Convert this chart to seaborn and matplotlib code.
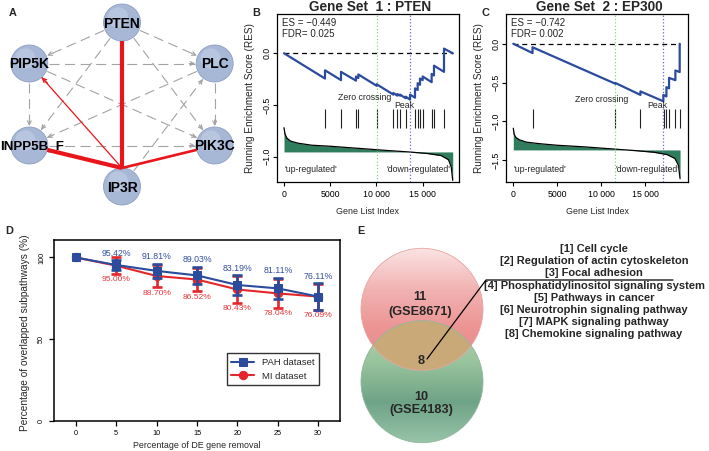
import numpy as np
import seaborn as sns
import matplotlib.pyplot as plt
from matplotlib.patches import Circle
from matplotlib.colors import LinearSegmentedColormap

# ---------------- A : sub-pathway network ----------------
net_nodes = ['PTEN', 'PLC', 'PIK3C', 'IP3R', 'INPP5B_F', 'PIP5K']
red_edges = [('IP3R', 'PTEN'), ('IP3R', 'INPP5B_F'), ('IP3R', 'PIK3C'), ('IP3R', 'PIP5K')]
gray_edges = [('PIP5K', 'PLC'), ('PIP5K', 'INPP5B_F'), ('PLC', 'PIK3C'), ('INPP5B_F', 'PIK3C'),
              ('PTEN', 'PIP5K'), ('PTEN', 'PLC'), ('PTEN', 'INPP5B_F'), ('PTEN', 'PIK3C'),
              ('PIP5K', 'PIK3C'), ('PLC', 'INPP5B_F'), ('IP3R', 'PLC')]

# ---------------- B : GSEA, gene set 1 (PTEN) ----------------
es1, fdr1 = -0.449, 0.025
zero1, peak1 = 10030, 13640
res1_x = [0, 4437, 4437, 6169, 6169, 7792, 7792, 8045, 8045, 10030, 10030, 11833, 11833,
          12266, 12266, 12554, 12554, 13167, 13167, 13640, 13640, 14177, 14177, 14466, 14466,
          14718, 14718, 15007, 15007, 15981, 15981, 16233, 16233, 17316, 17316, 18260]
res1_y = [0, -0.245, -0.165, -0.260, -0.180, -0.265, -0.225, -0.240, -0.205, -0.315, -0.300,
          -0.400, -0.385, -0.410, -0.395, -0.410, -0.400, -0.435, -0.420, -0.449, -0.400,
          -0.430, -0.340, -0.355, -0.290, -0.305, -0.245, -0.260, -0.225, -0.280, -0.200,
          -0.215, -0.120, -0.180, 0.045, 0.0]
hits1 = [4437, 6169, 7792, 8045, 10030, 11833, 12266, 12554, 13167, 14177, 14466, 14718,
         15007, 15981, 16233, 17316]
rank1_x = [0, 100, 300, 700, 1500, 3000, 5000, 8000, 11000, 13500, 15500, 17000, 17800, 18100, 18260]
rank1_y = [-0.72, -0.78, -0.82, -0.85, -0.87, -0.89, -0.90, -0.92, -0.94, -0.955, -0.97,
           -0.99, -1.03, -1.10, -1.23]
base1 = -0.955

# ---------------- C : GSEA, gene set 2 (EP300) ----------------
es2, fdr2 = -0.742, 0.002
zero2, peak2 = 11560, 17040
res2_x = [0, 2190, 2190, 11600, 11600, 14470, 14470, 17080, 17080, 17430, 17430, 17730, 17730,
          18450, 18450, 18940, 18940]
res2_y = [0, -0.12, -0.045, -0.515, -0.505, -0.660, -0.615, -0.742, -0.660, -0.680, -0.560,
          -0.575, -0.440, -0.470, -0.345, -0.365, 0.0]
hits2 = [2190, 11600, 14470, 17120, 17430, 17730, 18450, 18940]
rank2_x = [0, 100, 300, 700, 1500, 3000, 5000, 8000, 11000, 14000, 16000, 17500, 18400, 18800, 18980]
rank2_y = [-1.09, -1.17, -1.21, -1.24, -1.27, -1.29, -1.31, -1.33, -1.355, -1.38, -1.40,
           -1.43, -1.48, -1.57, -1.74]
base2 = -1.37

# ---------------- D : robustness ----------------
removal = [0, 5, 10, 15, 20, 25, 30]
pah = [100, 95.42, 91.81, 89.03, 83.19, 81.11, 76.11]
pah_err = [0, 3.0, 4.5, 5.4, 6.0, 6.6, 8.0]
mi = [100, 95.00, 88.70, 86.52, 80.43, 78.04, 76.09]
mi_err = [0, 5.0, 7.0, 7.0, 8.0, 8.7, 8.0]

# ---------------- E : Venn ----------------
venn_sets = ['GSE8671', 'GSE4183']
venn_only = [11, 10]
venn_shared = 8
pathways = ['Cell cycle', 'Regulation of actin cytoskeleton', 'Focal adhesion',
            'Phosphatidylinositol signaling system', 'Pathways in cancer',
            'Neurotrophin signaling pathway', 'MAPK signaling pathway',
            'Chemokine signaling pathway']

# ---------------- figure ----------------
sns.set_theme(style="ticks")
plt.rcParams['font.family'] = ['Liberation Sans', 'DejaVu Sans']
plt.rcParams['axes.unicode_minus'] = True

W, H = 709, 451
fig = plt.figure(figsize=(W / 100, H / 100), dpi=100)
canvas = fig.add_axes([0, 0, 1, 1])
canvas.set_xlim(0, W)
canvas.set_ylim(H, 0)
canvas.axis('off')


def box(l, t, r, b):
    return [l / W, 1 - b / H, (r - l) / W, (b - t) / H]


RED = '#e8161b'
BLUE = '#2a4b9e'
GREEN = '#2f7d5c'

# --- panel A ---
cx, cy, rx, ry, rn = 122, 104.5, 107, 82, 18.5
ang = dict(zip(net_nodes, [90, 30, -30, -90, 210, 150]))
pos = {n: (cx + rx * np.cos(np.radians(a)), cy - ry * np.sin(np.radians(a))) for n, a in ang.items()}


def ends(a, b, sa, sb):
    (x0, y0), (x1, y1) = pos[a], pos[b]
    d = np.hypot(x1 - x0, y1 - y0)
    ux, uy = (x1 - x0) / d, (y1 - y0) / d
    return (x0 + ux * sa, y0 + uy * sa), (x1 - ux * sb, y1 - uy * sb), (ux, uy)


for a, b in gray_edges:
    p0, p1, (ux, uy) = ends(a, b, rn + 1, rn + 1)
    canvas.plot([p0[0], p1[0]], [p0[1], p1[1]], color='#a3a3a3', lw=0.8, dashes=(9, 5), zorder=2)
    canvas.annotate('', xy=p1, xytext=(p1[0] - 6 * ux, p1[1] - 6 * uy),
                    arrowprops=dict(arrowstyle='->', color='#a3a3a3', lw=0.8,
                                    mutation_scale=7, shrinkA=0, shrinkB=0), zorder=2)

for n in net_nodes:
    canvas.add_patch(Circle(pos[n], rn, fc='#a7b7d6', ec='#8e9fc3', lw=0.6, zorder=3))
    canvas.add_patch(Circle((pos[n][0] - 4, pos[n][1] - 5), rn * 0.55, fc='#c3cfe6', ec='none',
                            alpha=0.6, zorder=3))
    if n == 'INPP5B_F':
        canvas.text(0.5, pos[n][1] + 1, n, ha='left', va='center', fontsize=9.6,
                    fontweight='bold', color='black', zorder=5)
    else:
        canvas.text(pos[n][0], pos[n][1] + 1, n, ha='center', va='center', fontsize=10,
                    fontweight='bold', color='black', zorder=5)

red_lw = [3.0, 3.0, 1.9, 0.9]
start = (pos['IP3R'][0], pos['IP3R'][1] - rn)
for (a, b), lw in zip(red_edges, red_lw):
    tx, ty = pos[b]
    d = np.hypot(start[0] - tx, start[1] - ty)
    end = (tx + (start[0] - tx) / d * rn, ty + (start[1] - ty) / d * rn)
    canvas.plot([start[0], end[0]], [start[1], end[1]], color=RED, lw=lw,
                solid_capstyle='butt', zorder=6)
    if b == 'PIP5K':
        canvas.annotate('', xy=end, xytext=(end[0] + 6, end[1] + 6),
                        arrowprops=dict(arrowstyle='->', color=RED, lw=0.9,
                                        mutation_scale=7, shrinkA=0, shrinkB=0), zorder=6)


# --- panels B and C ---
def gsea(ax, rx_, ry_, hits, kx, ky, base, hit_rng, zero_x, peak_x, es, fdr, xlim, ylim, yt):
    ax.set_xlim(*xlim)
    ax.set_ylim(*ylim)
    ax.fill_between(kx, ky, base, color=GREEN, lw=0, zorder=1)
    ax.plot(kx, ky, color='black', lw=0.9, zorder=2)
    ax.vlines(hits, hit_rng[0], hit_rng[1], color='#222222', lw=0.8, zorder=2)
    ax.plot([0, rx_[-1]], [0, 0], color='black', lw=0.9, dashes=(4, 3), zorder=2)
    ax.axvline(zero_x, color='#8ccf8c', lw=0.9, ls=':', zorder=2)
    ax.axvline(peak_x, color='#6868cc', lw=0.9, ls=':', zorder=2)
    sns.lineplot(x=rx_, y=ry_, ax=ax, color=BLUE, lw=1.6, estimator=None, sort=False, zorder=3)
    ax.set_xticks([0, 5000, 10000, 15000])
    ax.set_xticklabels(['0', '5000', '10 000', '15 000'])
    ax.set_yticks(yt)
    ax.set_yticklabels(['{:.1f}'.format(v).replace('-', '\u2212') for v in yt], rotation=90,
                       va='center')
    ax.tick_params(axis='both', direction='out', length=3, width=0.8, labelsize=6.3, colors='black')
    ax.tick_params(axis='x', pad=3)
    ax.tick_params(axis='y', pad=1)
    for s in ax.spines.values():
        s.set_color('black')
        s.set_linewidth(0.9)
    ax.set_xlabel('Gene List Index', fontsize=6.4)
    ax.xaxis.set_label_coords(0.5, -0.177)
    ax.xaxis.label.set_va('center')
    ax.set_ylabel('Running Enrichment Score (RES)', fontsize=7.2)
    ax.yaxis.set_label_coords(-0.15, 0.5)
    ax.yaxis.label.set_va('center')
    ax.text(0.026, 0.945, 'ES = ' + '{:.3f}'.format(es).replace('-', '\u2212'),
            transform=ax.transAxes, fontsize=7, va='center')
    ax.text(0.026, 0.879, 'FDR= {:.3f}'.format(fdr), transform=ax.transAxes, fontsize=7, va='center')
    ax.text(0.187, 0.075, "'up-regulated'", transform=ax.transAxes, fontsize=6.3,
            ha='center', va='center')
    ax.text(0.78, 0.075, "'down-regulated'", transform=ax.transAxes, fontsize=6.3,
            ha='center', va='center')


ax_b = fig.add_axes(box(277, 14, 459, 182))
gsea(ax_b, res1_x, res1_y, hits1, rank1_x, rank1_y, base1, (-0.535, -0.72), zero1, peak1,
     es1, fdr1, (-758, 18940), (-1.246, 0.38), [0, -0.5, -1.0])
ax_b.text(0.4835, 0.502, 'Zero crossing', transform=ax_b.transAxes, fontsize=6.3, ha='center', va='center')
ax_b.text(0.698, 0.454, 'Peak', transform=ax_b.transAxes, fontsize=6.3, ha='center', va='center')

ax_c = fig.add_axes(box(506, 14, 688, 182))
gsea(ax_c, res2_x, res2_y, hits2, rank2_x, rank2_y, base2, (-0.845, -1.09), zero2, peak2,
     es2, fdr2, (-830, 19886), (-1.784, 0.384), [0, -0.5, -1.0, -1.5])
ax_c.text(0.526, 0.494, 'Zero crossing', transform=ax_c.transAxes, fontsize=6.3, ha='center', va='center')
ax_c.text(0.83, 0.458, 'Peak', transform=ax_c.transAxes, fontsize=6.3, ha='center', va='center')

canvas.text(370, 6.8, 'Gene Set  1 : PTEN', fontsize=9.8, fontweight='bold', ha='center', va='center')
canvas.text(599, 6.8, 'Gene Set  2 : EP300', fontsize=9.8, fontweight='bold', ha='center', va='center')

# --- panel D ---
ax_d = fig.add_axes(box(54, 240, 340, 421))
RED_D = '#e4262c'
BLUE_D = '#2b4c9c'
x_arr = np.array(removal)
for vals, errs, col, mk, lab, z in [(mi, mi_err, RED_D, 'o', 'MI dataset', 2),
                                     (pah, pah_err, BLUE_D, 's', 'PAH dataset', 4)]:
    v = np.array(vals)
    e = np.array(errs)
    m = e > 0
    ax_d.errorbar(x_arr[m], v[m], yerr=e[m], fmt='none', ecolor=col, elinewidth=1.9,
                  capsize=3.6, capthick=1.9, zorder=z)
    sns.lineplot(x=removal, y=vals, ax=ax_d, color=col, marker=mk, markersize=6,
                 markeredgecolor=col, lw=1.5, label=lab, zorder=z + 1)
    for xi, vi, ei in zip(x_arr[m], v[m], e[m]):
        if col == BLUE_D:
            ax_d.annotate('{:.2f}%'.format(vi), xy=(xi, vi + ei), xytext=(0, 5),
                          textcoords='offset points', ha='center', va='center',
                          fontsize=6.3, color='#34509e')
        else:
            ax_d.annotate('{:.2f}%'.format(vi), xy=(xi, vi - ei), xytext=(0, -4.4),
                          textcoords='offset points', ha='center', va='center',
                          fontsize=6.1, color='#e8353a')

ax_d.set_xlim(-2.7, 32.7)
ax_d.set_ylim(0, 110.7)
ax_d.set_xticks(removal)
ax_d.set_yticks([0, 50, 100])
ax_d.set_yticklabels(['0', '50', '100'], rotation=90, va='center')
ax_d.tick_params(axis='both', direction='out', length=3.4, width=0.9, labelsize=5.2,
                 colors='black', pad=3)
for s in ax_d.spines.values():
    s.set_color('black')
    s.set_linewidth(1.1)
ax_d.set_xlabel('Percentage of DE gene removal', fontsize=6.4)
ax_d.xaxis.set_label_coords(0.5, -0.133)
ax_d.xaxis.label.set_va('center')
ax_d.set_ylabel('Percentage of overlapped subpathways (%)', fontsize=7.3)
ax_d.yaxis.set_label_coords(-0.101, 0.485)
ax_d.yaxis.label.set_va('center')
h, l = ax_d.get_legend_handles_labels()
leg = ax_d.legend(h[::-1], l[::-1], loc='upper left', bbox_to_anchor=(0.604, 0.374),
                  fontsize=6.8, frameon=True, fancybox=False, edgecolor='black',
                  borderpad=0.5, handlelength=2.4, labelspacing=0.5, borderaxespad=0)
leg.get_frame().set_linewidth(1.0)

# --- panel E : Venn ---
vx, vy_top, vy_bot, vr = 422, 309.3, 381.7, 61
top_c = Circle((vx, vy_top), vr, fc='none', ec='none')
bot_c = Circle((vx, vy_bot), vr, fc='none', ec='none')
canvas.add_patch(top_c)
canvas.add_patch(bot_c)
grad = np.linspace(0, 1, 200).reshape(-1, 1)
pink = LinearSegmentedColormap.from_list('pink', ['#fbe3e3', '#f2b3b3', '#ec9393', '#ea8c8c'])
green = LinearSegmentedColormap.from_list('green', ['#b6d3b0', '#98c49c', '#6fa387', '#98c4a9'])
im1 = canvas.imshow(grad, cmap=pink, extent=[vx - vr, vx + vr, vy_top + vr, vy_top - vr],
                    aspect='auto', zorder=2)
im1.set_clip_path(top_c)
im2 = canvas.imshow(grad, cmap=green, extent=[vx - vr, vx + vr, vy_bot + vr, vy_bot - vr],
                    aspect='auto', zorder=2)
im2.set_clip_path(bot_c)
lens = Circle((vx, vy_bot), vr, fc='#c9a977', ec='none', zorder=3)
canvas.add_patch(lens)
lens.set_clip_path(top_c)
canvas.add_patch(Circle((vx, vy_top), vr, fc='none', ec='#e9a3a3', lw=0.6, zorder=4))
canvas.add_patch(Circle((vx, vy_bot), vr, fc='none', ec='#8fb79c', lw=0.6, zorder=4))
canvas.set_xlim(0, W)
canvas.set_ylim(H, 0)

canvas.text(420, 296.7, str(venn_only[0]), fontsize=9.2, fontweight='bold', ha='center', va='center', zorder=5)
canvas.text(420, 311.7, '(' + venn_sets[0] + ')', fontsize=9.2, fontweight='bold', ha='center', va='center', zorder=5)
canvas.text(421, 360.7, str(venn_shared), fontsize=9.2, fontweight='bold', ha='center', va='center', zorder=5)
canvas.text(421, 396.7, str(venn_only[1]), fontsize=9.2, fontweight='bold', ha='center', va='center', zorder=5)
canvas.text(421, 410.5, '(' + venn_sets[1] + ')', fontsize=9.2, fontweight='bold', ha='center', va='center', zorder=5)
canvas.plot([427, 486, 673], [359, 280, 280], color='black', lw=0.9, zorder=6)
for i, p in enumerate(pathways):
    canvas.text(594, 249.3 + i * 12.1, '[{}] {}'.format(i + 1, p), fontsize=8, fontweight='bold',
                ha='center', va='center', zorder=5)

# panel letters
for lab, x, y in [('A', 13, 12.5), ('B', 256.5, 12.5), ('C', 485, 12.5), ('D', 9.5, 230.5), ('E', 361, 230.5)]:
    canvas.text(x, y, lab, fontsize=7.8, fontweight='bold', ha='center', va='center')

fig.savefig('out.png', dpi=100)
